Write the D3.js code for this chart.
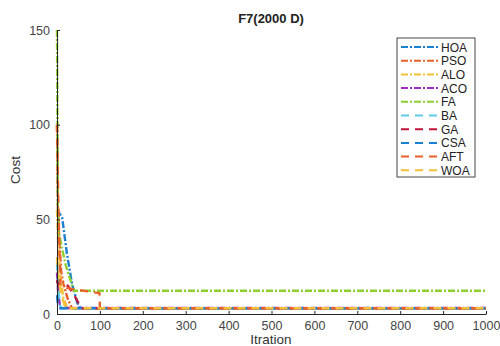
<!DOCTYPE html>
<html>
<head>
<meta charset="utf-8">
<script src="https://cdn.jsdelivr.net/npm/d3@7"></script>
<style>
  body { margin: 0; background: #fff; }
  text { font-family: "Liberation Sans", Arial, sans-serif; }
</style>
</head>
<body>
<script>
const width = 500;
const height = 346;

// algorithm names, in legend order
const names = ['HOA', 'PSO', 'ALO', 'ACO', 'FA', 'BA', 'GA', 'CSA', 'AFT', 'WOA'];

// iteration / cost pairs
const hoaIter = [0, 3, 12, 23, 35, 47, 55, 1000];
const hoaCost = [55, 54, 51, 32, 16, 6, 3, 3];
const psoIter = [0, 2, 5, 10, 15, 25, 35, 1000];
const psoCost = [100, 57, 40, 22, 16, 8, 3, 3];
const aloIter = [0, 3, 8, 15, 25, 1000];
const aloCost = [55, 35, 20, 8, 3, 3];
const acoIter = [0, 3, 8, 1000];
const acoCost = [22, 10, 3.2, 3.2];
const faIter = [0, 2, 4, 20, 39, 1000];
const faCost = [150, 57, 43, 26, 12.3, 12.3];
const baIter = [0, 3, 6, 10, 1000];
const baCost = [27, 15, 5, 3, 3];
const gaIter = [0, 3, 25, 40, 52, 60, 1000];
const gaCost = [18, 15, 15, 10, 5, 3, 3];
const csaIter = [0, 2, 5, 1000];
const csaCost = [10, 5, 3, 3];
const aftIter = [0, 3, 8, 40, 85, 99, 100, 1000];
const aftCost = [100, 60, 14.5, 13, 11.5, 11, 3, 3];
const woaIter = [0, 3, 10, 20, 1000];
const woaCost = [30, 20, 10, 3, 3];

const iterList = [hoaIter, psoIter, aloIter, acoIter, faIter, baIter, gaIter, csaIter, aftIter, woaIter];
const costList = [hoaCost, psoCost, aloCost, acoCost, faCost, baCost, gaCost, csaCost, aftCost, woaCost];

const xTicks = [0, 100, 200, 300, 400, 500, 600, 700, 800, 900, 1000];
const yTicks = [0, 50, 100, 150];

// matlab colour order, a bit brighter like the picture
const colors = ['#1a80d0', '#e8602a', '#f2c13a', '#a02ec0', '#8ccf2e', '#5ccbe8', '#c0143c', '#1a80d0', '#e8602a', '#f2c13a'];
const dashDot = '7,2,2,2';
const dashed = '8,6';

const margin = { left: 57, right: 14, top: 30, bottom: 32 };

const svg = d3.select('body').append('svg')
  .attr('width', width)
  .attr('height', height);

const x = d3.scaleLinear().domain([0, 1000]).range([margin.left, width - margin.right]);
const y = d3.scaleLinear().domain([0, 150]).range([height - margin.bottom, margin.top]);

const line = d3.line()
  .x(d => x(d[0]))
  .y(d => y(d[1]));

const series = names.map((n, i) => ({
  name: n,
  color: colors[i],
  dash: i < 5 ? dashDot : dashed,
  pts: iterList[i].map((v, j) => [v, costList[i][j]])
}));

// plotted in order, later series on top (like matlab)
svg.append('g')
  .selectAll('path')
  .data(series)
  .enter().append('path')
  .attr('d', d => line(d.pts))
  .attr('fill', 'none')
  .attr('stroke', d => d.color)
  .attr('stroke-width', 2.4)
  .attr('stroke-dasharray', d => d.dash);

// axes (matlab style: ticks inside)
const axisColor = '#262626';
const xAxis = svg.append('g')
  .attr('transform', `translate(0,${y(0)})`)
  .call(d3.axisBottom(x).tickValues(xTicks).tickFormat(d3.format('d'))
    .tickSizeInner(-3).tickSizeOuter(0).tickPadding(7));
const yAxis = svg.append('g')
  .attr('transform', `translate(${x(0)},0)`)
  .call(d3.axisLeft(y).tickValues(yTicks).tickSizeInner(-3).tickSizeOuter(0).tickPadding(7));

[xAxis, yAxis].forEach(g => {
  g.select('.domain').attr('stroke', axisColor).attr('stroke-width', 1);
  g.selectAll('.tick line').attr('stroke', axisColor);
  g.selectAll('.tick text')
    .attr('fill', '#444')
    .style('font-size', '12.5px')
    .style('font-family', '"Liberation Sans", Arial, sans-serif');
});

// title and axis labels
svg.append('text')
  .attr('x', 271).attr('y', 23)
  .attr('text-anchor', 'middle')
  .style('font-size', '13px')
  .style('font-weight', 'bold')
  .attr('fill', '#222')
  .text('F7(2000 D)');

svg.append('text')
  .attr('x', 271).attr('y', 344)
  .attr('text-anchor', 'middle')
  .style('font-size', '13.5px')
  .attr('fill', '#333')
  .text('Itration');

svg.append('text')
  .attr('transform', 'translate(20,170) rotate(-90)')
  .attr('text-anchor', 'middle')
  .style('font-size', '13.5px')
  .attr('fill', '#333')
  .text('Cost');

// legend
const legend = svg.append('g').attr('transform', 'translate(397,38)');
legend.append('rect')
  .attr('width', 78).attr('height', 139)
  .attr('fill', '#fff')
  .attr('stroke', '#444')
  .attr('stroke-width', 1);

const item = legend.selectAll('.item')
  .data(series)
  .enter().append('g')
  .attr('class', 'item')
  .attr('transform', (d, i) => `translate(0,${9 + i * 13.7})`);

item.append('line')
  .attr('x1', 4).attr('x2', 41)
  .attr('stroke', d => d.color)
  .attr('stroke-width', 2)
  .attr('stroke-dasharray', d => d.dash);

item.append('text')
  .attr('x', 44).attr('y', 4.5)
  .style('font-size', '12px')
  .attr('fill', '#222')
  .text(d => d.name);
</script>
</body>
</html>
